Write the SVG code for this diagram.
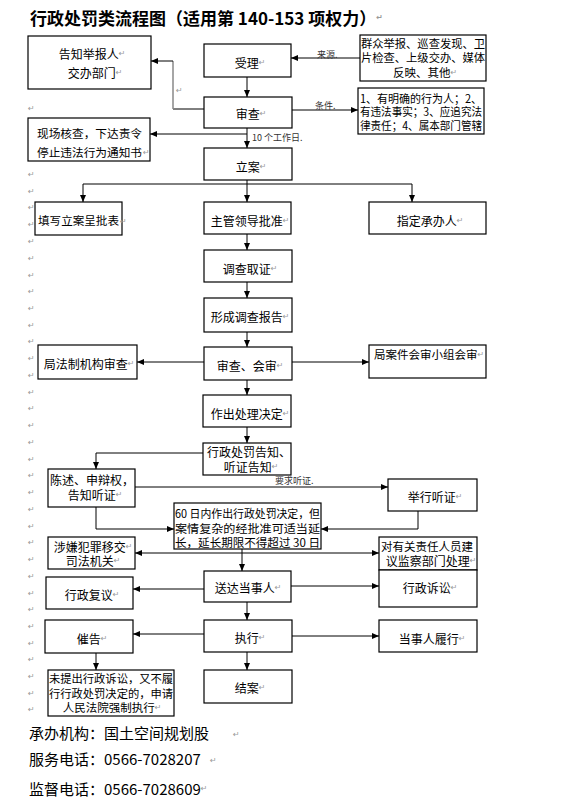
<svg xmlns="http://www.w3.org/2000/svg" width="576" height="807" viewBox="0 0 576 807">
<style>
text{font-family:"Noto Sans CJK SC","Liberation Sans",sans-serif;fill:#000}
.t{font-size:12px;text-anchor:middle;dominant-baseline:central}
.tl{font-size:11.5px;dominant-baseline:central}
.tc{font-size:11.5px;text-anchor:middle;dominant-baseline:central}
.lb{font-size:9px;fill:#333;dominant-baseline:central}
.pm{fill:#999;font-family:"DejaVu Sans",sans-serif;font-size:8px}
.mg{fill:#999;font-family:"DejaVu Sans",sans-serif;font-size:8px;dominant-baseline:central}
.ft{font-size:15px;dominant-baseline:central}
rect{fill:#fff;stroke:#000;stroke-width:1.2}
.c path{fill:none;stroke:#000;stroke-width:1}
</style>
<defs>
<marker id="a" markerWidth="7" markerHeight="6" refX="7" refY="3" orient="auto-start-reverse" markerUnits="userSpaceOnUse"><path d="M0,0 L7,3 L0,6 z" fill="#000"/></marker>
</defs>
<rect x="0" y="0" width="576" height="807" style="fill:#fff;stroke:none"/>
<text x="30" y="17" style="font-size:17px;font-weight:bold;dominant-baseline:central">行政处罚类流程图（适用第 140-153 项权力）<tspan class="pm">↵</tspan></text>
<g id="margin">
<text class="mg" x="28" y="108">↵</text><text class="mg" x="28" y="174">↵</text><text class="mg" x="28" y="191">↵</text><text class="mg" x="28" y="207">↵</text><text class="mg" x="28" y="224">↵</text><text class="mg" x="28" y="241">↵</text><text class="mg" x="28" y="258">↵</text><text class="mg" x="28" y="275">↵</text><text class="mg" x="28" y="291">↵</text><text class="mg" x="28" y="308">↵</text><text class="mg" x="28" y="325">↵</text><text class="mg" x="28" y="341">↵</text><text class="mg" x="28" y="358">↵</text><text class="mg" x="28" y="375">↵</text><text class="mg" x="28" y="392">↵</text><text class="mg" x="28" y="408">↵</text><text class="mg" x="28" y="425">↵</text><text class="mg" x="28" y="442">↵</text><text class="mg" x="28" y="459">↵</text><text class="mg" x="28" y="475">↵</text><text class="mg" x="28" y="492">↵</text><text class="mg" x="28" y="509">↵</text><text class="mg" x="28" y="526">↵</text><text class="mg" x="28" y="542">↵</text><text class="mg" x="28" y="559">↵</text><text class="mg" x="28" y="576">↵</text><text class="mg" x="28" y="593">↵</text><text class="mg" x="28" y="609">↵</text><text class="mg" x="28" y="626">↵</text><text class="mg" x="28" y="643">↵</text><text class="mg" x="28" y="659">↵</text><text class="mg" x="28" y="676">↵</text><text class="mg" x="28" y="693">↵</text><text class="mg" x="28" y="709">↵</text>
<text class="mg" x="176" y="90">↵</text>
</g>
<g class="c" id="connectors">
<path d="M360,58 H291" marker-end="url(#a)"/>
<path d="M247,77 V97" marker-end="url(#a)"/>
<path d="M204,109 H173"/>
<path d="M173,109 V61" style="stroke:#888;stroke-width:1.5"/>
<path d="M173,61 H151" marker-end="url(#a)"/>
<path d="M292,110 H358" marker-end="url(#a)"/>
<path d="M247,128 V148" marker-end="url(#a)"/>
<path d="M247,134 H150" marker-end="url(#a)"/>
<path d="M247,180 V202" marker-end="url(#a)"/>
<path d="M83,184 H412"/>
<path d="M83,184 V202" marker-end="url(#a)"/>
<path d="M412,184 V202" marker-end="url(#a)"/>
<path d="M247,234 V250" marker-end="url(#a)"/>
<path d="M247,282 V298" marker-end="url(#a)"/>
<path d="M247,332 V347" marker-end="url(#a)"/>
<path d="M204,362 H137" marker-end="url(#a)"/>
<path d="M292,362 H369" marker-end="url(#a)"/>
<path d="M247,380 V395" marker-end="url(#a)"/>
<path d="M247,427 V443" marker-end="url(#a)"/>
<path d="M203,453 H96 V469" marker-end="url(#a)"/>
<path d="M135,487 H388" marker-end="url(#a)"/>
<path d="M96,507 V529 H174" marker-end="url(#a)"/>
<path d="M418,511 V529 H321" marker-end="url(#a)"/>
<path d="M135,553 H379" marker-start="url(#a)" marker-end="url(#a)"/>
<path d="M242,549 V571" marker-end="url(#a)"/>
<path d="M204,589 H133" marker-end="url(#a)"/>
<path d="M291,586 H379" marker-end="url(#a)"/>
<path d="M247,602 V620" marker-end="url(#a)"/>
<path d="M204,634 H133" marker-end="url(#a)"/>
<path d="M292,636 H379" marker-end="url(#a)"/>
<path d="M247,652 V670" marker-end="url(#a)"/>
<path d="M96,653 V670" marker-end="url(#a)"/>
<text class="lb" x="317" y="54">来源.</text>
<text class="lb" x="315" y="105">条件.</text>
<text class="lb" x="252" y="137">10 个工作日.</text>
<text class="lb" x="275" y="480">要求听证.</text>
</g>
<g id="n-gaozhi"><rect x="28" y="36" width="123" height="53"/><text class="t" x="92" y="53">告知举报人<tspan class="pm">↵</tspan></text><text class="t" x="95" y="72">交办部门<tspan class="pm">↵</tspan></text></g>
<g id="n-shouli"><rect x="204" y="44" width="87" height="33"/><text class="t" x="250" y="62">受理<tspan class="pm">↵</tspan></text></g>
<g id="n-laiyuan"><rect x="360" y="35" width="126" height="46"/><text class="tl" x="361" y="43" textLength="124" lengthAdjust="spacingAndGlyphs">群众举报、巡查发现、卫</text><text class="tl" x="361" y="57" textLength="124" lengthAdjust="spacingAndGlyphs">片检查、上级交办、媒体</text><text class="tc" x="425" y="72">反映、其他<tspan class="pm">↵</tspan></text></g>
<g id="n-shencha"><rect x="204" y="97" width="88" height="31"/><text class="t" x="251" y="113">审查<tspan class="pm">↵</tspan></text></g>
<g id="n-tiaojian"><rect x="358" y="88" width="126" height="46"/><text class="tl" x="360" y="98" textLength="122" lengthAdjust="spacingAndGlyphs">1、有明确的行为人；2、</text><text class="tl" x="360" y="111" textLength="122" lengthAdjust="spacingAndGlyphs">有违法事实；3、应追究法</text><text class="tl" x="360" y="125" textLength="122" lengthAdjust="spacingAndGlyphs">律责任；4、属本部门管辖</text></g>
<g id="n-xianchang"><rect x="28" y="118" width="122" height="43"/><text class="tl" x="37" y="133" textLength="105" lengthAdjust="spacingAndGlyphs">现场核查，下达责令</text><text class="tl" x="37" y="152" textLength="105" lengthAdjust="spacingAndGlyphs">停止违法行为通知书</text><text class="mg" x="143" y="152">↵</text></g>
<g id="n-lian"><rect x="204" y="148" width="88" height="32"/><text class="t" x="251" y="166">立案<tspan class="pm">↵</tspan></text></g>
<g id="n-tianxie"><rect x="35" y="202" width="87" height="33"/><text class="tl" x="38" y="220" textLength="81" lengthAdjust="spacingAndGlyphs">填写立案呈批表</text><text class="mg" x="120" y="221">↵</text></g>
<g id="n-zhuguan"><rect x="204" y="202" width="87" height="32"/><text class="t" x="250" y="220">主管领导批准<tspan class="pm">↵</tspan></text></g>
<g id="n-zhiding"><rect x="369" y="202" width="117" height="32"/><text class="t" x="430" y="220">指定承办人<tspan class="pm">↵</tspan></text></g>
<g id="n-diaocha"><rect x="204" y="250" width="88" height="32"/><text class="t" x="250" y="268">调查取证<tspan class="pm">↵</tspan></text></g>
<g id="n-baogao"><rect x="204" y="298" width="88" height="34"/><text class="t" x="250" y="316">形成调查报告<tspan class="pm">↵</tspan></text></g>
<g id="n-huishen"><rect x="204" y="347" width="88" height="33"/><text class="t" x="250" y="365">审查、会审<tspan class="pm">↵</tspan></text></g>
<g id="n-fazhi"><rect x="38" y="345" width="99" height="34"/><text class="t" x="89" y="363">局法制机构审查<tspan class="pm">↵</tspan></text></g>
<g id="n-anjian"><rect x="369" y="345" width="117" height="33"/><text class="t" x="429" y="354" style="font-size:11.5px">局案件会审小组会审<tspan class="pm">↵</tspan></text></g>
<g id="n-zuochu"><rect x="203" y="395" width="88" height="32"/><text class="t" x="250" y="413">作出处理决定<tspan class="pm">↵</tspan></text></g>
<g id="n-gaozhi2"><rect x="203" y="443" width="88" height="32"/><text class="tl" x="207" y="451" style="font-size:12px">行政处罚告知、</text><text class="t" x="251" y="466">听证告知<tspan class="pm">↵</tspan></text></g>
<g id="n-chenshu"><rect x="48" y="469" width="87" height="38"/><text class="tl" x="50" y="479" style="font-size:12px">陈述、申辩权，</text><text class="t" x="95" y="494">告知听证<tspan class="pm">↵</tspan></text></g>
<g id="n-tingzheng"><rect x="388" y="479" width="89" height="32"/><text class="t" x="435" y="496">举行听证<tspan class="pm">↵</tspan></text></g>
<g id="n-60"><rect x="174" y="503" width="147" height="46"/><text class="tl" x="175" y="513" textLength="145" lengthAdjust="spacingAndGlyphs">60 日内作出行政处罚决定，但</text><text class="tl" x="175" y="528" textLength="145" lengthAdjust="spacingAndGlyphs">案情复杂的经批准可适当延</text><text class="tl" x="175" y="542" textLength="145" lengthAdjust="spacingAndGlyphs">长，延长期限不得超过 30 日</text></g>
<g id="n-sheqian"><rect x="48" y="537" width="87" height="32"/><text class="t" x="93" y="546">涉嫌犯罪移交<tspan class="pm">↵</tspan></text><text class="t" x="93" y="560">司法机关<tspan class="pm">↵</tspan></text></g>
<g id="n-jiancha"><rect x="379" y="537" width="98" height="33"/><text class="tl" x="381" y="546" textLength="92" lengthAdjust="spacingAndGlyphs">对有关责任人员建</text><text class="t" x="431" y="560">议监察部门处理<tspan class="pm">↵</tspan></text></g>
<g id="n-songda"><rect x="204" y="571" width="87" height="31"/><text class="t" x="248" y="587">送达当事人<tspan class="pm">↵</tspan></text></g>
<g id="n-fuyi"><rect x="46" y="577" width="87" height="32"/><text class="t" x="92" y="594">行政复议<tspan class="pm">↵</tspan></text></g>
<g id="n-susong"><rect x="379" y="570" width="98" height="37"/><text class="t" x="430" y="587">行政诉讼<tspan class="pm">↵</tspan></text></g>
<g id="n-zhixing"><rect x="204" y="620" width="88" height="32"/><text class="t" x="250" y="637">执行<tspan class="pm">↵</tspan></text></g>
<g id="n-cuigao"><rect x="45" y="620" width="88" height="33"/><text class="t" x="92" y="638">催告<tspan class="pm">↵</tspan></text></g>
<g id="n-lvxing"><rect x="379" y="620" width="98" height="32"/><text class="t" x="432" y="638">当事人履行<tspan class="pm">↵</tspan></text></g>
<g id="n-jiean"><rect x="204" y="670" width="88" height="33"/><text class="t" x="250" y="687">结案<tspan class="pm">↵</tspan></text></g>
<g id="n-qiangzhi"><rect x="48" y="670" width="126" height="46"/><text class="tl" x="49" y="678" textLength="124" lengthAdjust="spacingAndGlyphs">未提出行政诉讼，又不履</text><text class="tl" x="49" y="693" textLength="124" lengthAdjust="spacingAndGlyphs">行行政处罚决定的，申请</text><text class="tc" x="112" y="707">人民法院强制执行<tspan class="pm">↵</tspan></text></g>
<g id="footer">
<text class="ft" x="29" y="732">承办机构：国土空间规划股</text><text class="mg" x="233" y="734">↵</text>
<text class="ft" x="29" y="758">服务电话：0566-7028207</text><text class="mg" x="210" y="760">↵</text>
<text class="ft" x="29" y="788">监督电话：0566-7028609<tspan class="pm">↵</tspan></text>
</g>
</svg>
